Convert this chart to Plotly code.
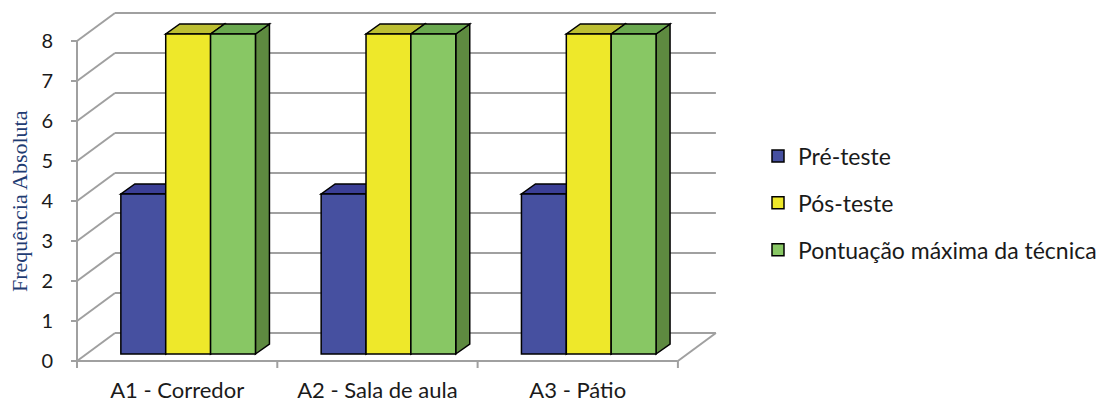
import plotly.graph_objects as go

# ---- data -------------------------------------------------------------
categories = ["A1 - Corredor", "A2 - Sala de aula", "A3 - Pátio"]
series_names = ["Pré-teste", "Pós-teste", "Pontuação máxima da técnica"]
pre_teste = [4, 4, 4]
pos_teste = [8, 8, 8]
pontuacao_maxima = [8, 8, 8]
y_ticks = [0, 1, 2, 3, 4, 5, 6, 7, 8]
y_tick_labels = [str(v) for v in y_ticks]
y_title = "Frequência Absoluta"

series_values = [pre_teste, pos_teste, pontuacao_maxima]

# ---- styling -----------------------------------------------------------
front_colors = ["#4650A0", "#EEE82A", "#88C764"]
top_colors = ["#3B3F96", "#BDBF32", "#6AA84F"]
side_colors = ["#343A88", "#A9AB22", "#5E8A40"]
GRID = "#A0A0A0"
OUTLINE = "#000000"

W, H = 1106, 405

# pixel geometry of the front plane of the 3-D box
X_LEFT_PX = 77.0      # position of x = -0.5
CAT_PX = 200.3        # pixels per category
Y_ZERO_PX = 361.0     # position of value 0
UNIT_PX = 40.0        # pixels per value unit


def ax_x(px):
    return (px - X_LEFT_PX) / CAT_PX - 0.5


def ax_y(py):
    return (Y_ZERO_PX - py) / UNIT_PX


plot_l, plot_r, plot_t, plot_b = 58, 724, 6, 372
x_range = [ax_x(plot_l), ax_x(plot_r)]
y_range = [ax_y(plot_b), ax_y(plot_t)]

# depth offsets, in axis units
WALL_DX, WALL_DY = 38 / CAT_PX, 28 / UNIT_PX      # front plane -> back wall
BAR_DX0, BAR_DY0 = 11 / CAT_PX, 7 / UNIT_PX       # front plane -> bar fronts
BAR_DX1, BAR_DY1 = 14 / CAT_PX, 10 / UNIT_PX      # bar front -> bar back
BAR_W = 0.224                                     # width of one bar
n_cat = len(categories)
x_lo, x_hi = -0.5, n_cat - 0.5
y_top = y_ticks[-1]

shapes = []


def seg(x0, y0, x1, y1, color=GRID, width=2):
    shapes.append(dict(type="line", xref="x", yref="y", layer="below",
                       x0=x0, y0=y0, x1=x1, y1=y1,
                       line=dict(color=color, width=width)))


# walls: side-wall diagonals and back-wall gridlines
for v in y_ticks:
    seg(x_lo, v, x_lo + WALL_DX, v + WALL_DY)
    seg(x_lo + WALL_DX, v + WALL_DY, x_hi + WALL_DX, v + WALL_DY)
# floor right edge and front axes
seg(x_hi, 0, x_hi + WALL_DX, WALL_DY)
seg(x_lo, 0, x_lo, y_top)
seg(x_lo, 0, x_hi, 0)
# tick marks
for v in y_ticks:
    seg(x_lo - 6 / CAT_PX, v, x_lo, v)
for k in range(n_cat + 1):
    seg(x_lo + k, 0, x_lo + k, -7 / UNIT_PX)

# top and side faces of every bar
for s, values in enumerate(series_values):
    for i, v in enumerate(values):
        left = i - 1.5 * BAR_W + s * BAR_W + BAR_DX0
        right = left + BAR_W
        base = BAR_DY0
        top = base + v
        side = (f"M{right},{base} L{right + BAR_DX1},{base + BAR_DY1} "
                f"L{right + BAR_DX1},{top + BAR_DY1} L{right},{top} Z")
        lid = (f"M{left},{top} L{right},{top} "
               f"L{right + BAR_DX1},{top + BAR_DY1} L{left + BAR_DX1},{top + BAR_DY1} Z")
        shapes.append(dict(type="path", xref="x", yref="y", layer="below",
                           path=side, fillcolor=side_colors[s],
                           line=dict(color=OUTLINE, width=1.5)))
        shapes.append(dict(type="path", xref="x", yref="y", layer="below",
                           path=lid, fillcolor=top_colors[s],
                           line=dict(color=OUTLINE, width=1.5)))

fig = go.Figure()
for s, values in enumerate(series_values):
    fig.add_trace(go.Bar(
        name=series_names[s],
        x=[i + BAR_DX0 for i in range(n_cat)],
        y=values,
        base=BAR_DY0,
        marker=dict(color=front_colors[s], line=dict(color=OUTLINE, width=1.5)),
        legendgroup=series_names[s],
        hoverinfo="skip",
    ))

FONT = "Lato"
TEXT = "#1A1A1A"

# rotated value-axis title, centred on the 3-D box height
fig.add_annotation(
    text=y_title, textangle=-90,
    xref="paper", x=(19 - plot_l) / (plot_r - plot_l), xanchor="center",
    yref="y", y=(y_top + WALL_DY) / 2 - 0.35, yanchor="middle",
    showarrow=False,
    font=dict(family="Liberation Serif", size=22, color="#1F3C73"),
)

fig.update_layout(
    width=W, height=H,
    margin=dict(l=plot_l, r=W - plot_r, t=plot_t, b=H - plot_b, autoexpand=False),
    paper_bgcolor="white", plot_bgcolor="white",
    barmode="group", bargap=1 - 3 * BAR_W, bargroupgap=0,
    shapes=shapes,
    font=dict(family=FONT, size=20, color=TEXT),
    showlegend=True,
    legend=dict(
        x=(758 - plot_l) / (plot_r - plot_l), xanchor="left",
        y=(plot_b - 203) / (plot_b - plot_t), yanchor="middle",
        traceorder="grouped", tracegroupgap=14,
        font=dict(family=FONT, size=23, color=TEXT),
        bgcolor="rgba(0,0,0,0)",
    ),
    xaxis=dict(range=x_range, tickvals=list(range(n_cat)), ticktext=categories,
               tickfont=dict(family=FONT, size=22, color=TEXT),
               showgrid=False, zeroline=False, showline=False, ticks="",
               ticklabelstandoff=3, fixedrange=True, automargin=False),
    yaxis=dict(range=y_range, tickvals=y_ticks, ticktext=y_tick_labels,
               tickfont=dict(family=FONT, size=20, color=TEXT),
               showgrid=False, zeroline=False, showline=False, ticks="",
               ticklabelstandoff=4, fixedrange=True, automargin=False),
)

fig.write_html("out.html")
